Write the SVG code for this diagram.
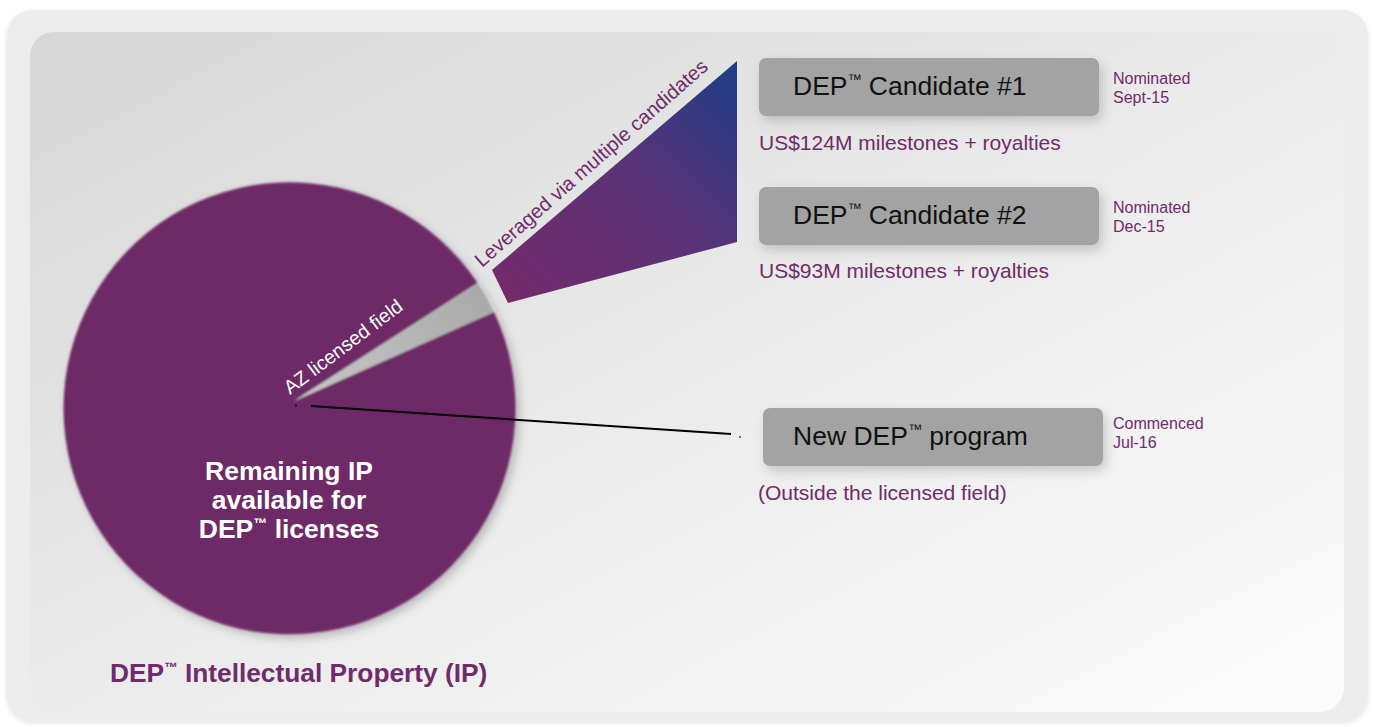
<svg xmlns="http://www.w3.org/2000/svg" width="1373" height="727" viewBox="0 0 1373 727">
<defs>
<linearGradient id="bgGrad" x1="0" y1="0" x2="1" y2="1">
<stop offset="0" stop-color="#d6d6d6"/>
<stop offset="0.5" stop-color="#ebebeb"/>
<stop offset="1" stop-color="#fcfcfc"/>
</linearGradient>
<linearGradient id="fanGrad" gradientUnits="userSpaceOnUse" x1="500" y1="295" x2="745" y2="60">
<stop offset="0" stop-color="#742a6a"/>
<stop offset="0.55" stop-color="#583378"/>
<stop offset="1" stop-color="#1a3f88"/>
</linearGradient>
<linearGradient id="azGrad" gradientUnits="userSpaceOnUse" x1="294" y1="401" x2="490" y2="295">
<stop offset="0" stop-color="#c8c8c8"/>
<stop offset="1" stop-color="#a9a9a9"/>
</linearGradient>
<filter id="boxShadow" x="-10%" y="-30%" width="125%" height="170%">
<feDropShadow dx="3" dy="5" stdDeviation="6" flood-color="#000" flood-opacity="0.18"/>
</filter>
<filter id="pieSoft" x="-10%" y="-10%" width="125%" height="125%">
<feGaussianBlur in="SourceAlpha" stdDeviation="5" result="b"/>
<feOffset in="b" dx="4" dy="4" result="o"/>
<feFlood flood-color="#000" flood-opacity="0.22"/>
<feComposite in2="o" operator="in" result="sh"/>
<feGaussianBlur in="SourceGraphic" stdDeviation="1.3" result="g"/>
<feMerge><feMergeNode in="sh"/><feMergeNode in="g"/></feMerge>
</filter>
<filter id="outerShadow" x="-5%" y="-5%" width="110%" height="110%">
<feDropShadow dx="0" dy="1" stdDeviation="2" flood-color="#000" flood-opacity="0.12"/>
</filter>
</defs>
<style>
.box{fill:#a3a3a3;}
.boxText{font-family:"Liberation Sans",Arial,sans-serif;font-size:26.5px;fill:#111;}
.tm{font-size:14px;}
.purple{font-family:"Liberation Sans",Arial,sans-serif;fill:#702b6b;}
.money{font-size:21px;}
.date{font-size:16px;}
.white{font-family:"Liberation Sans",Arial,sans-serif;fill:#fff;}
</style>

<rect x="0" y="0" width="1373" height="727" fill="#ffffff"/>
<rect x="7" y="10" width="1361" height="712" rx="26" fill="#ececec" filter="url(#outerShadow)"/>
<rect x="30" y="32" width="1314" height="680" rx="24" fill="url(#bgGrad)"/>

<g id="pie">
<g filter="url(#pieSoft)">
<path d="M294,401 L477.5,282.9 A226,226 0 1 0 493.9,311.9 Z" fill="#6e2966"/>
<path d="M294,401 L477.5,282.9 A226,226 0 0 1 493.9,311.9 Z" fill="url(#azGrad)"/>
</g>
<text class="white" font-size="19.5" transform="translate(290,395) rotate(-37)">AZ licensed field</text>
<text class="white" font-size="26.5" font-weight="bold" text-anchor="middle" x="289" y="480">Remaining IP</text>
<text class="white" font-size="26.5" font-weight="bold" text-anchor="middle" x="289" y="509">available for</text>
<text class="white" font-size="26.5" font-weight="bold" text-anchor="middle" x="289" y="538">DEP<tspan font-size="14" dy="-10">™</tspan><tspan dy="10"> licenses</tspan></text>
</g>

<g id="fan">
<polygon points="492,270 737,61 737,242 508,303" fill="url(#fanGrad)"/>
<text class="purple" font-size="20" transform="translate(482,268) rotate(-41.3)">Leveraged via multiple candidates</text>
</g>

<g id="title">
<text class="purple" font-size="26.3" font-weight="bold" x="110" y="682">DEP<tspan font-size="13.5" dy="-10">™</tspan><tspan dy="10"> Intellectual Property (IP)</tspan></text>
</g>

<g id="candidate1">
<rect class="box" x="759" y="58" width="340" height="58" rx="7" filter="url(#boxShadow)"/>
<text class="boxText" x="793" y="95">DEP<tspan class="tm" dy="-11">™</tspan><tspan dy="11"> Candidate #1</tspan></text>
<text class="purple date" x="1113" y="84">Nominated</text>
<text class="purple date" x="1113" y="103">Sept-15</text>
<text class="purple money" x="759" y="150">US$124M milestones + royalties</text>
</g>

<g id="candidate2">
<rect class="box" x="759" y="187" width="340" height="58" rx="7" filter="url(#boxShadow)"/>
<text class="boxText" x="793" y="224">DEP<tspan class="tm" dy="-11">™</tspan><tspan dy="11"> Candidate #2</tspan></text>
<text class="purple date" x="1113" y="213">Nominated</text>
<text class="purple date" x="1113" y="232">Dec-15</text>
<text class="purple money" x="759" y="278">US$93M milestones + royalties</text>
</g>

<g id="newProgram">
<rect class="box" x="763" y="408" width="340" height="58" rx="7" filter="url(#boxShadow)"/>
<text class="boxText" x="793" y="445">New DEP<tspan class="tm" dy="-11">™</tspan><tspan dy="11"> program</tspan></text>
<text class="purple date" x="1113" y="429">Commenced</text>
<text class="purple date" x="1113" y="448">Jul-16</text>
<text class="purple money" x="758" y="500">(Outside the licensed field)</text>
</g>

<g id="connectors">
<line x1="311" y1="406" x2="731" y2="434" stroke="#000" stroke-width="2"/>
<line x1="296" y1="404" x2="296" y2="407" stroke="#000" stroke-width="1"/>
<line x1="740" y1="436" x2="740" y2="438" stroke="#000" stroke-width="1"/>
</g>
</svg>
